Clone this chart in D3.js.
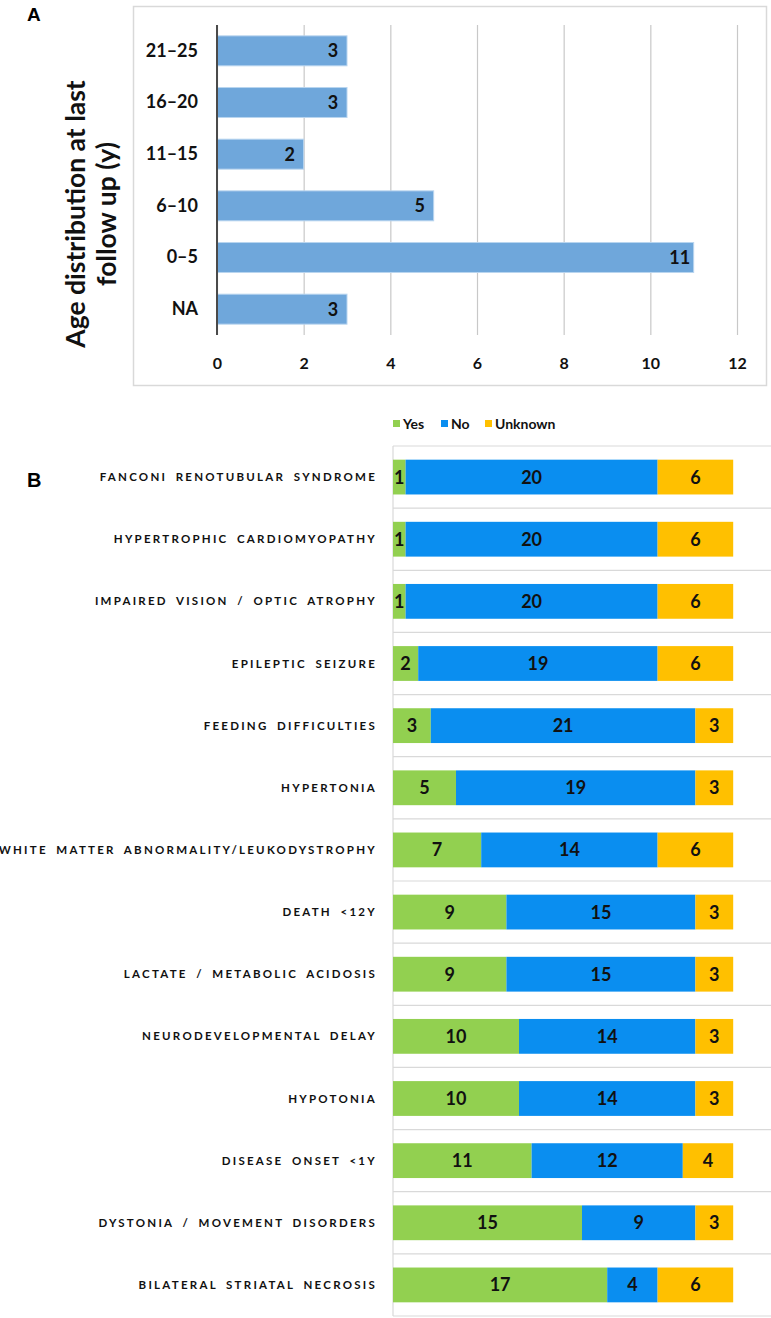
<!DOCTYPE html>
<html><head><meta charset="utf-8">
<script src="https://cdn.jsdelivr.net/npm/d3@7/dist/d3.min.js"></script>
<style>
body{margin:0;background:#fff;}
svg text{font-family:Lato,"Open Sans",sans-serif;}
</style></head>
<body>
<svg id="chart" width="771" height="1318"></svg>
<script>
// Panel A data
const ageCategories = ["21–25","16–20","11–15","6–10","0–5","NA"];
const ageCounts = [3,3,2,5,11,3];
const ageTicks = [0,2,4,6,8,10,12];

// Panel B data
const features = ["FANCONI RENOTUBULAR SYNDROME","HYPERTROPHIC CARDIOMYOPATHY","IMPAIRED VISION / OPTIC ATROPHY","EPILEPTIC SEIZURE","FEEDING DIFFICULTIES","HYPERTONIA","WHITE MATTER ABNORMALITY/LEUKODYSTROPHY","DEATH <12Y","LACTATE / METABOLIC ACIDOSIS","NEURODEVELOPMENTAL DELAY","HYPOTONIA","DISEASE ONSET <1Y","DYSTONIA / MOVEMENT DISORDERS","BILATERAL STRIATAL NECROSIS"];
const yesVals = [1,1,1,2,3,5,7,9,9,10,10,11,15,17];
const noVals = [20,20,20,19,21,19,14,15,15,14,14,12,9,4];
const unknownVals = [6,6,6,6,3,3,6,3,3,3,3,4,3,6];
const seriesNames = ["Yes","No","Unknown"];
const seriesColors = ["#92d050","#0a8ef0","#ffc000"];

const svg = d3.select("#chart");

// ---------- Panel A ----------
svg.append("rect").attr("x",133.5).attr("y",6.5).attr("width",633).attr("height",379)
  .attr("fill","#fff").attr("stroke","#d9d9d9").attr("stroke-width",1.5);
svg.append("text").attr("x",27).attr("y",21).text("A")
  .style("font-family","'Liberation Sans',Arial,sans-serif")
  .attr("font-weight","bold").attr("font-size",19);

const xA = d3.scaleLinear().domain([0,12]).range([217,737]);
const yA = d3.scaleBand().domain(ageCategories).range([25,335]).paddingInner(0.42).paddingOuter(0.21);

const gA = svg.append("g");
gA.append("g")
  .call(d3.axisBottom(xA).tickValues(ageTicks).tickSize(310).tickFormat(""))
  .call(g=>{g.attr("transform","translate(0,25)");g.select(".domain").remove();
    g.selectAll(".tick line").attr("stroke","#c8c8c8").attr("stroke-width",1.2);});
// tick labels
gA.append("g").attr("transform","translate(0,363)")
  .call(d3.axisBottom(xA).tickValues(ageTicks).tickSize(0))
  .call(g=>{g.select(".domain").remove();
    g.selectAll("text").attr("dy","0.35em").attr("y",0).attr("font-size",16).attr("font-weight","bold").attr("fill","#111");});

gA.selectAll("rect.bar").data(ageCounts).join("rect")
  .attr("class","bar")
  .attr("x",xA(0)).attr("y",(d,i)=>yA(ageCategories[i]))
  .attr("width",d=>xA(d)-xA(0)).attr("height",yA.bandwidth())
  .attr("fill","#6fa7db").attr("stroke","#b9d5ef").attr("stroke-width",1);
gA.selectAll("text.val").data(ageCounts).join("text")
  .attr("class","val")
  .attr("x",d=>xA(d)-14).attr("y",(d,i)=>yA(ageCategories[i])+yA.bandwidth()/2)
  .attr("dy","0.36em").attr("text-anchor","middle").attr("font-size",18).attr("font-weight","bold").attr("fill","#111")
  .text(d=>d);
// axis line at 0
gA.append("line").attr("x1",xA(0)).attr("x2",xA(0)).attr("y1",25).attr("y2",335).attr("stroke","#4a4a4a").attr("stroke-width",2);
// category labels
gA.append("g").attr("transform",`translate(${xA(0)},0)`)
  .call(d3.axisLeft(yA).tickSize(0).tickPadding(19))
  .call(g=>{g.select(".domain").remove();
    g.selectAll("text").attr("font-size",18).attr("font-weight","bold").attr("fill","#111");});
// y title
const yt = gA.append("text").attr("transform","translate(93,214) rotate(-90)")
  .attr("text-anchor","middle").attr("font-size",26.5).attr("font-weight","bold").attr("fill","#111");
yt.append("tspan").attr("x",0).attr("dy","-0.32em").text("Age distribution at last");
yt.append("tspan").attr("x",0).attr("dy","1.2em").text("follow up (y)");

// ---------- Panel B ----------
svg.append("text").attr("x",27).attr("y",487).text("B")
  .style("font-family","'Liberation Sans',Arial,sans-serif")
  .attr("font-weight","bold").attr("font-size",20);

const xB = d3.scaleLinear().domain([0,30]).range([393,771]);
const yB = d3.scaleBand().domain(features).range([446,1316]).paddingInner(0.44).paddingOuter(0.22);
const step = yB.step();

const gB = svg.append("g");
// horizontal grid lines between rows
const gridY = d3.range(features.length+1).map(i=>446+i*step);
gB.selectAll("line.hg").data(gridY).join("line").attr("class","hg")
  .attr("x1",393).attr("x2",771).attr("y1",d=>d).attr("y2",d=>d)
  .attr("stroke","#d9d9d9").attr("stroke-width",1.2);
gB.append("line").attr("x1",393).attr("x2",393).attr("y1",446).attr("y2",1316)
  .attr("stroke","#d9d9d9").attr("stroke-width",1.2);

const seriesData = [yesVals,noVals,unknownVals];
const rows = features.map((f,i)=>({f, vals:seriesData.map(s=>s[i])}));
rows.forEach(r=>{
  let acc=0;
  r.segs = r.vals.map((v,k)=>{const s={k,v,x0:acc,x1:acc+v}; acc+=v; return s;});
});
const rowG = gB.selectAll("g.row").data(rows).join("g").attr("class","row")
  .attr("transform",d=>`translate(0,${yB(d.f)})`);
rowG.selectAll("rect").data(d=>d.segs).join("rect")
  .attr("x",d=>xB(d.x0)).attr("width",d=>xB(d.x1)-xB(d.x0))
  .attr("y",0).attr("height",yB.bandwidth()).attr("fill",d=>seriesColors[d.k]);
rowG.selectAll("text").data(d=>d.segs).join("text")
  .attr("x",d=>(xB(d.x0)+xB(d.x1))/2).attr("y",yB.bandwidth()/2).attr("dy","0.36em")
  .attr("text-anchor","middle").attr("font-size",18).attr("font-weight","bold").attr("fill","#111")
  .text(d=>d.v);

// category labels
gB.append("g").attr("transform","translate(393,0)")
  .call(d3.axisLeft(yB).tickSize(0).tickPadding(16))
  .call(g=>{g.select(".domain").remove();
    g.selectAll("text").attr("font-size",11.5).attr("font-weight","bold").attr("fill","#111")
      .attr("letter-spacing","2.25px").attr("word-spacing","3.5px").attr("dy","0.36em");});

// legend
const leg = svg.append("g").attr("transform","translate(393,424)");
const legX = [0,48,92];
seriesNames.forEach((n,i)=>{
  leg.append("rect").attr("x",legX[i]).attr("y",-4).attr("width",7).attr("height",7).attr("fill",seriesColors[i]);
  leg.append("text").attr("x",legX[i]+10).attr("y",0).attr("dy","0.35em").attr("font-size",14).attr("font-weight","bold").attr("fill","#111").text(n);
});
</script>
</body></html>
